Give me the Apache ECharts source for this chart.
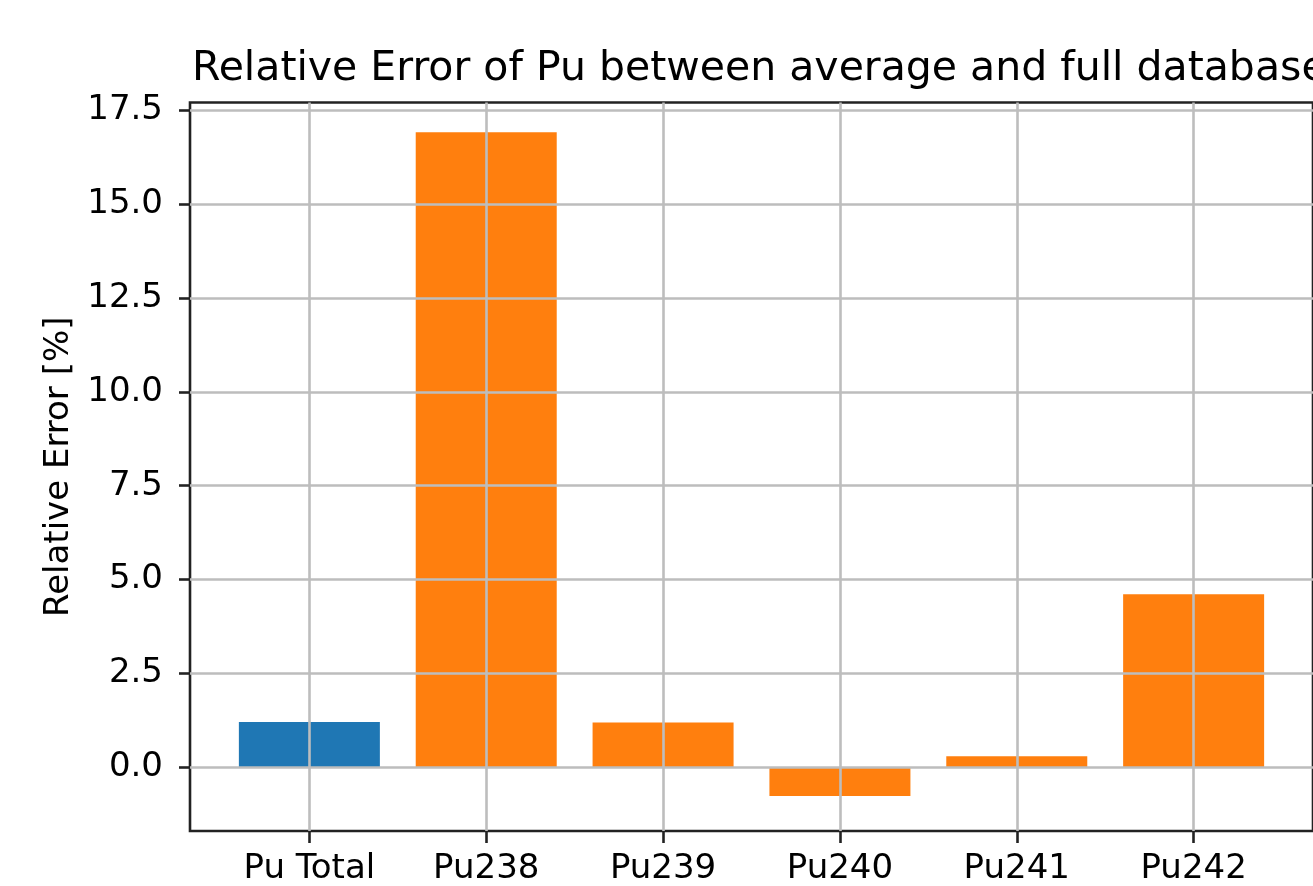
<!DOCTYPE html>
<html>
<head>
<meta charset="utf-8">
<script src="https://cdn.jsdelivr.net/npm/echarts@6/dist/echarts.min.js"></script>
<style>
  html, body { margin: 0; padding: 0; background: #fff; }
  #main { width: 1313px; height: 886px; }
</style>
</head>
<body>
<div id="main"></div>
<script>
// data
var categories = ['Pu Total', 'Pu238', 'Pu239', 'Pu240', 'Pu241', 'Pu242'];
var values = [1.21, 16.91, 1.2, -0.76, 0.3, 4.61];
var yTicks = [0, 2.5, 5, 7.5, 10, 12.5, 15, 17.5];
var xTicks = [0, 1, 2, 3, 4, 5];

var font = 'DejaVu Sans';
var blue = '#1f77b4', orange = '#ff7f0e';

var chart = echarts.init(document.getElementById('main'));

var option = {
  animation: false,
  backgroundColor: '#fff',
  title: {
    text: 'Relative Error of Pu between average and full database',
    left: 187,
    top: 44,
    textStyle: { fontFamily: font, fontSize: 41, fontWeight: 'normal', color: '#000' }
  },
  grid: {
    left: 190, top: 102.5, width: 1124, height: 730.8,
    show: true, borderColor: '#222', borderWidth: 2.6, backgroundColor: 'transparent'
  },
  xAxis: {
    type: 'value',
    min: -0.675, max: 5.675,
    z: 3,
    axisLine: { show: false, onZero: false },
    axisTick: { show: true, customValues: xTicks, length: 12, lineStyle: { color: '#222', width: 2.6 } },
    axisLabel: {
      customValues: xTicks, margin: 21,
      fontFamily: font, fontSize: 34, color: '#000',
      formatter: function (v) { return categories[Math.round(v)]; }
    },
    splitLine: { show: true, lineStyle: { color: '#bdbdbd', width: 2.6 } }
  },
  yAxis: {
    type: 'value',
    min: -1.69, max: 17.7,
    z: 3,
    name: 'Relative Error [%]',
    nameLocation: 'middle',
    nameRotate: 90,
    nameGap: 112,
    nameTextStyle: { fontFamily: font, fontSize: 34, color: '#000' },
    axisLine: { show: false, onZero: false },
    axisTick: { show: true, customValues: yTicks, length: 11, lineStyle: { color: '#222', width: 2.6 } },
    axisLabel: {
      customValues: yTicks, margin: 27,
      fontFamily: font, fontSize: 34, color: '#000',
      formatter: function (v) { return v.toFixed(1); }
    },
    splitLine: { show: true, lineStyle: { color: '#bdbdbd', width: 2.6 } }
  },
  series: [{
    type: 'bar',
    barWidth: 141,
    z: 2,
    data: values.map(function (v, i) { return [xTicks[i], v]; }),
    itemStyle: {
      color: function (p) { return p.dataIndex === 0 ? blue : orange; }
    }
  }]
};

chart.setOption(option);
</script>
</body>
</html>
